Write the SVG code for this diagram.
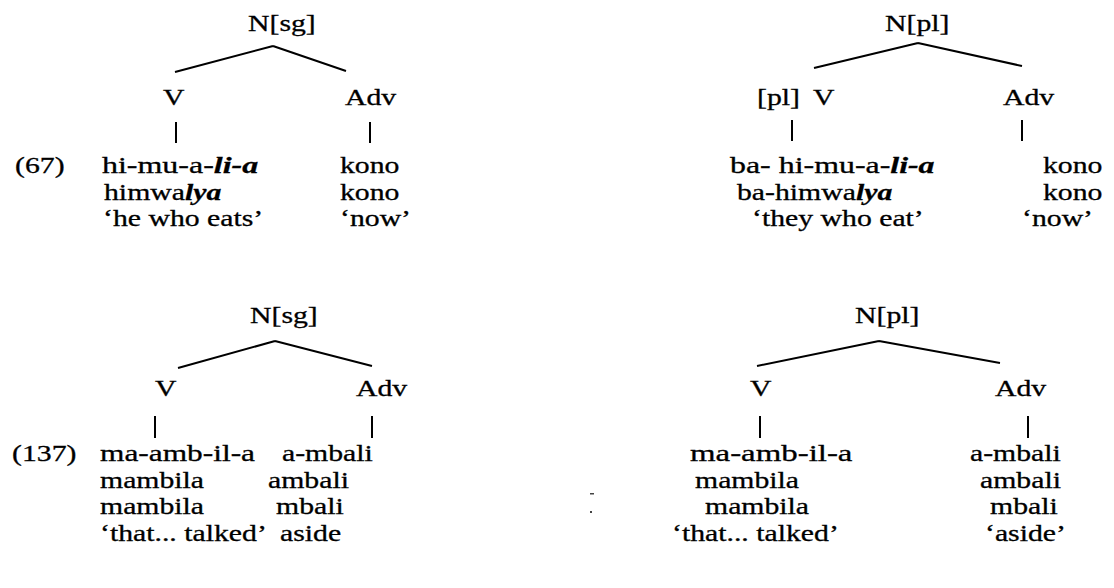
<svg xmlns="http://www.w3.org/2000/svg" width="1114" height="588" viewBox="0 0 1114 588">
  <style>
    text { font-family: "Liberation Serif", "Times New Roman", serif; font-size: 24px; fill: #000; stroke: #000; stroke-width: 0.3; }
    .bi { font-weight: bold; font-style: italic; }
    .edge { stroke: #000; stroke-width: 2; fill: none; stroke-linecap: butt; }
    .speck { fill: #444; }
  </style>
  <rect width="1114" height="588" fill="#fff"/>

  <!-- tree branches and unary bars -->
  <g id="connectors">
    <!-- (67) singular -->
    <path class="edge" d="M273 46 L175 72 M273 46 L346 71"/>
    <path class="edge" d="M176 122 V143 M370 122 V143"/>
    <!-- (67) plural -->
    <path class="edge" d="M918 43 L814 68 M918 43 L1022 66"/>
    <path class="edge" d="M792 120 V141 M1022 120 V141"/>
    <!-- (137) singular -->
    <path class="edge" d="M275 341 L178 368 M275 341 L372 366"/>
    <path class="edge" d="M155 416 V438 M372 416 V438"/>
    <!-- (137) plural -->
    <path class="edge" d="M879 341 L757 366 M879 341 L1000 363"/>
    <path class="edge" d="M760 416 V438 M1028 416 V438"/>
  </g>

  <!-- (67), singular -->
  <g id="ex67-label"><text transform="translate(15,173) scale(1.24,1)">(67)</text></g>
  <g id="ex67-sg-root"><text transform="translate(248,31) scale(1.24,1)">N[sg]</text></g>
  <g id="ex67-sg-v"><text transform="translate(163,105) scale(1.24,1)">V</text></g>
  <g id="ex67-sg-adv"><text transform="translate(345,105) scale(1.24,1)">Adv</text></g>
  <g id="ex67-sg-v-leaf">
    <text transform="translate(102,173) scale(1.24,1)" textLength="126" lengthAdjust="spacingAndGlyphs">hi-mu-a-<tspan class="bi">li-a</tspan></text>
    <text transform="translate(104,199.5) scale(1.24,1)">himwa<tspan class="bi">lya</tspan></text>
    <text transform="translate(103,226) scale(1.24,1)">‘he who eats’</text>
  </g>
  <g id="ex67-sg-adv-leaf">
    <text transform="translate(340,173) scale(1.24,1)">kono</text>
    <text transform="translate(340,199.5) scale(1.24,1)">kono</text>
    <text transform="translate(340,226) scale(1.24,1)">‘now’</text>
  </g>

  <!-- (67), plural -->
  <g id="ex67-pl-root"><text transform="translate(885,31) scale(1.24,1)">N[pl]</text></g>
  <g id="ex67-pl-v">
    <text transform="translate(757,105) scale(1.24,1)">[pl]</text>
    <text transform="translate(813,105) scale(1.24,1)">V</text>
  </g>
  <g id="ex67-pl-adv"><text transform="translate(1003,105) scale(1.24,1)">Adv</text></g>
  <g id="ex67-pl-v-leaf">
    <text transform="translate(730,173) scale(1.24,1)" textLength="165" lengthAdjust="spacingAndGlyphs">ba- hi-mu-a-<tspan class="bi">li-a</tspan></text>
    <text transform="translate(737,199.5) scale(1.24,1)">ba-himwa<tspan class="bi">lya</tspan></text>
    <text transform="translate(752,226) scale(1.24,1)">‘they who eat’</text>
  </g>
  <g id="ex67-pl-adv-leaf">
    <text transform="translate(1043,173) scale(1.24,1)">kono</text>
    <text transform="translate(1043,199.5) scale(1.24,1)">kono</text>
    <text transform="translate(1022,226) scale(1.24,1)">‘now’</text>
  </g>

  <!-- (137), singular -->
  <g id="ex137-label"><text transform="translate(12,461) scale(1.24,1)">(137)</text></g>
  <g id="ex137-sg-root"><text transform="translate(250,323) scale(1.24,1)">N[sg]</text></g>
  <g id="ex137-sg-v"><text transform="translate(155,396) scale(1.24,1)">V</text></g>
  <g id="ex137-sg-adv"><text transform="translate(356,396) scale(1.24,1)">Adv</text></g>
  <g id="ex137-sg-v-leaf">
    <text transform="translate(100,461) scale(1.24,1)" textLength="125" lengthAdjust="spacingAndGlyphs">ma-amb-il-a</text>
    <text transform="translate(100,487.5) scale(1.24,1)">mambila</text>
    <text transform="translate(100,514) scale(1.24,1)">mambila</text>
    <text transform="translate(100,540.5) scale(1.24,1)">‘that... talked’</text>
  </g>
  <g id="ex137-sg-adv-leaf">
    <text transform="translate(282,461) scale(1.24,1)">a-mbali</text>
    <text transform="translate(268,487.5) scale(1.24,1)">ambali</text>
    <text transform="translate(276,514) scale(1.24,1)">mbali</text>
    <text transform="translate(280,540.5) scale(1.24,1)">aside</text>
  </g>

  <!-- (137), plural -->
  <g id="ex137-pl-root"><text transform="translate(855,323) scale(1.24,1)">N[pl]</text></g>
  <g id="ex137-pl-v"><text transform="translate(750,396) scale(1.24,1)">V</text></g>
  <g id="ex137-pl-adv"><text transform="translate(995,396) scale(1.24,1)">Adv</text></g>
  <g id="ex137-pl-v-leaf">
    <text transform="translate(690,461) scale(1.24,1)" textLength="131" lengthAdjust="spacingAndGlyphs">ma-amb-il-a</text>
    <text transform="translate(695,487.5) scale(1.24,1)">mambila</text>
    <text transform="translate(705,514) scale(1.24,1)">mambila</text>
    <text transform="translate(672,540.5) scale(1.24,1)">‘that... talked’</text>
  </g>
  <g id="ex137-pl-adv-leaf">
    <text transform="translate(970,461) scale(1.24,1)">a-mbali</text>
    <text transform="translate(980,487.5) scale(1.24,1)">ambali</text>
    <text transform="translate(990,514) scale(1.24,1)">mbali</text>
    <text transform="translate(985,540.5) scale(1.24,1)">‘aside’</text>
  </g>

  <!-- stray marks on the page -->
  <g id="specks">
    <rect class="speck" x="590" y="493" width="4" height="1.5"/>
    <rect class="speck" x="590" y="511" width="2" height="2"/>
  </g>
</svg>
